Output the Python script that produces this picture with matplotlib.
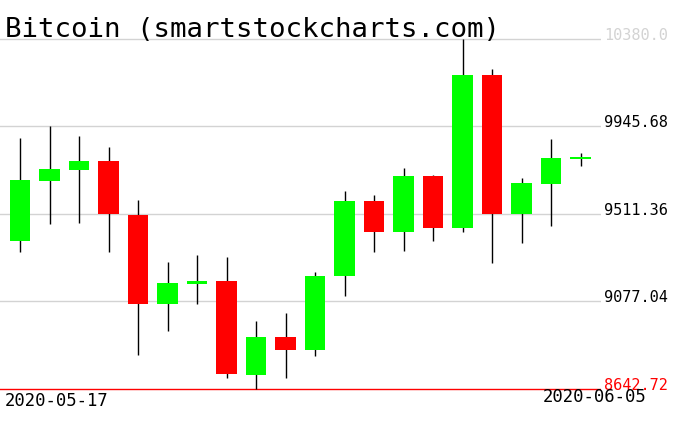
import matplotlib
matplotlib.use('Agg')
import matplotlib.pyplot as plt
import numpy as np

plt.rcParams['font.family'] = 'DejaVu Sans Mono'

# ── Data (daily OHLC) ────────────────────────────────────────────────────────
dates = ['2020-05-17', '2020-05-18', '2020-05-19', '2020-05-20', '2020-05-21',
         '2020-05-22', '2020-05-23', '2020-05-24', '2020-05-25', '2020-05-26',
         '2020-05-27', '2020-05-28', '2020-05-29', '2020-05-30', '2020-05-31',
         '2020-06-01', '2020-06-02', '2020-06-03', '2020-06-04', '2020-06-05']
opens = [9379, 9677, 9731, 9774, 9506, 9066, 9165, 9179, 8714, 8901,
         8838, 9202, 9576, 9424, 9700, 9443, 10201, 9513, 9662, 9786]
highs = [9889, 9948, 9899, 9845, 9581, 9273, 9308, 9296, 8980, 9020,
         9224, 9624, 9606, 9740, 9705, 10380.0, 10231, 9690, 9882, 9814]
lows = [9323, 9463, 9468, 9324, 8813, 8932, 9066, 8699, 8642.72, 8699,
        8808, 9106, 9324, 9329, 9379, 9421, 9267, 9366, 9450, 9751]
closes = [9680, 9735, 9774, 9511, 9066, 9169, 9179, 8719, 8901, 8838,
          9204, 9576, 9424, 9700, 9443, 10201, 9513, 9665, 9789, 9794]
ytick_values = [10380.0, 9945.68, 9511.36, 9077.04, 8642.72]
ytick_labels = ['10380.0', '9945.68', '9511.36', '9077.04', '8642.72']
title = 'Bitcoin (smartstockcharts.com)'

W, H = 676, 431
fig = plt.figure(figsize=(W / 100, H / 100), dpi=100)
fig.patch.set_facecolor('white')

# pixel layout: top tick line at y=40, bottom at y=390, plot width 0..601
top_px, bot_px = 40, 390
ax_top_px, ax_bot_px = 20, 410
px_per_val = (bot_px - top_px) / (max(ytick_values) - min(ytick_values))
ymax = max(ytick_values) + (top_px - ax_top_px) / px_per_val
ymin = min(ytick_values) - (ax_bot_px - bot_px) / px_per_val

ax = fig.add_axes([0, (H - ax_bot_px) / H, 601 / W, (ax_bot_px - ax_top_px) / H])
ax.set_ylim(ymin, ymax)
step_px, first_px = 29.5, 20
ax.set_xlim(-first_px / step_px, (601 - first_px) / step_px)
ax.axis('off')

# ── Grid lines ───────────────────────────────────────────────────────────────
for v in ytick_values[:-1]:
    ax.axhline(v, color='#d3d3d3', linewidth=1, zorder=0)
ax.axhline(ytick_values[-1], color='#ff0000', linewidth=1, zorder=0)

# ── Candles ──────────────────────────────────────────────────────────────────
x = np.arange(len(dates))
o = np.array(opens)
c = np.array(closes)
colors = ['#00ff00' if cc >= oo else '#ff0000' for oo, cc in zip(o, c)]
ax.vlines(x, lows, highs, color='black', linewidth=1, zorder=1)
ax.bar(x, np.abs(c - o), bottom=np.minimum(o, c), width=0.71,
       color=colors, linewidth=0, zorder=2)

# ── Price labels on the right ────────────────────────────────────────────────
lab_colors = ['#d3d3d3', 'black', 'black', 'black', '#ff0000']
for v, lab, col in zip(ytick_values, ytick_labels, lab_colors):
    ax.text(604 / 601, v, lab, transform=ax.get_yaxis_transform(),
            ha='left', va='baseline', fontsize=11, color=col, clip_on=False)

# ── Date labels and title ────────────────────────────────────────────────────
fig.text(5 / W, 1 - 406 / H, dates[0], fontsize=12.4, ha='left', va='baseline')
fig.text(646 / W, 1 - 402 / H, dates[-1], fontsize=12.4, ha='right', va='baseline')
fig.text(5 / W, 1 - 37 / H, title, fontsize=19.7, ha='left', va='baseline')

fig.savefig('out.png', dpi=100, facecolor='white')
